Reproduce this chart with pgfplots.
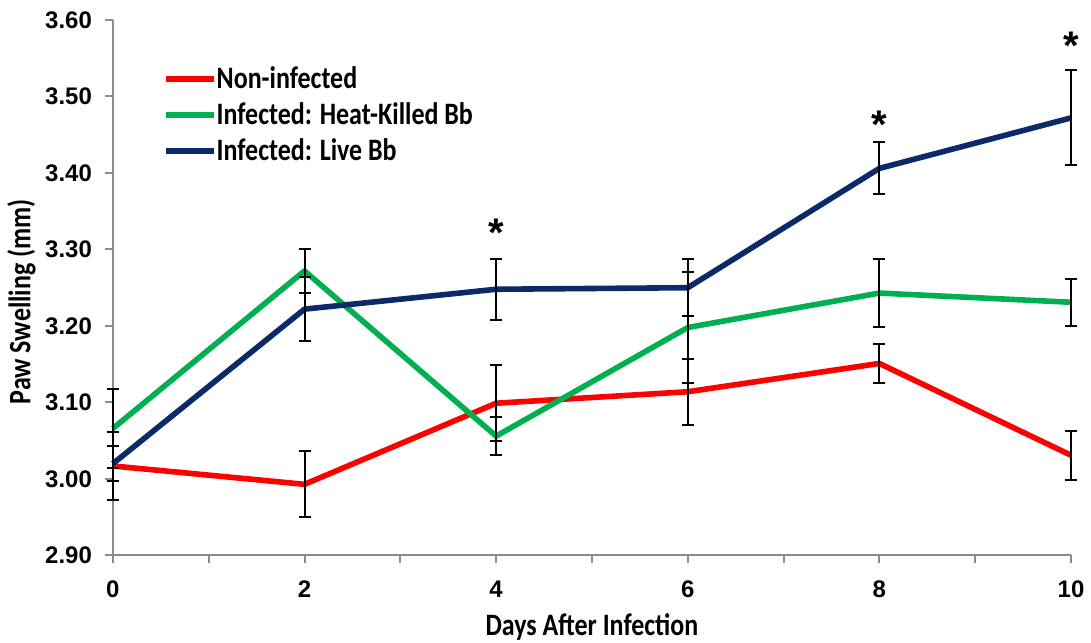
\documentclass[border=0pt]{standalone}
\usepackage{pgfplots}
\pgfplotsset{compat=1.18}
\usepackage{graphicx}
\usepackage{fontspec}
\setmainfont{Liberation Sans}
\newfontfamily\calibri{Carlito}
\definecolor{cred}{HTML}{FF0000}
\definecolor{cgreen}{HTML}{00B050}
\definecolor{cblue}{HTML}{0C2A6A}
\definecolor{axgray}{HTML}{8C8C8C}
\newcommand{\tall}[1]{\scalebox{1}[1.2]{#1}}
\begin{document}
\begin{tikzpicture}
\begin{axis}[
  scale only axis, width=479.5pt, height=268pt,
  xmin=0, xmax=10, ymin=2.9, ymax=3.6,
  axis lines*=left,
  axis line style={axgray, line width=1pt},
  xtick={0,2,4,6,8,10}, minor xtick={1,3,5,7,9},
  ytick={2.9,3.0,3.1,3.2,3.3,3.4,3.5,3.6},
  tick align=outside, major tick length=4pt, minor tick length=4pt,
  tick style={axgray, line width=1pt},
  /pgf/number format/assume math mode=true,
  yticklabel style={/pgf/number format/fixed, /pgf/number format/fixed zerofill, /pgf/number format/precision=2, xshift=-3pt},
  xticklabel style={yshift=-5pt},
  tick label style={font=\bfseries\fontsize{12}{14}\selectfont},
  xlabel={\tall{Days After Infection}}, ylabel={\tall{Paw Swelling (mm)}},
  label style={font=\calibri\bfseries\fontsize{13}{15}\selectfont},
  xlabel style={at={(axis description cs:0.5,0)}, anchor=north, inner sep=0pt, yshift=-29pt},
  ylabel style={at={(axis description cs:0,0.5)}, anchor=south, inner sep=0pt, yshift=38.5pt, xshift=-7pt},
  clip=false,
  legend style={draw=none, fill=none, at={(0.052,0.918)}, anchor=north west, inner sep=0pt, row sep=3pt, column sep=0pt,
    font=\calibri\bfseries\fontsize{13}{15}\selectfont, nodes={inner sep=0pt, text height=12pt, text depth=3pt}},
  legend cell align=left,
  legend image code/.code={\draw[#1, line width=2.8pt] (0pt,0pt) -- (24pt,0pt);},
]
\addplot[cred, line width=2.8pt, line join=round, mark=none,
  error bars/.cd, y dir=both, y explicit,
  error bar style={black, line width=1pt},
  error mark options={black, rotate=90, mark size=3pt, line width=1pt}]
  coordinates {(0,3.017) +- (0,0.045) (2,2.993) +- (0,0.043) (4,3.099) +- (0,0.050) (6,3.114) +- (0,0.043) (8,3.151) +- (0,0.025) (10,3.031) +- (0,0.032)};
\addlegendentry{\tall{Non-infected}}
\addplot[cgreen, line width=2.8pt, line join=round, mark=none,
  error bars/.cd, y dir=both, y explicit,
  error bar style={black, line width=1pt},
  error mark options={black, rotate=90, mark size=3pt, line width=1pt}]
  coordinates {(0,3.066) +- (0,0.052) (2,3.272) +- (0,0.029) (4,3.056) +- (0,0.025) (6,3.198) +- (0,0.072) (8,3.243) +- (0,0.045) (10,3.231) +- (0,0.031)};
\addlegendentry{\tall{Infected: Heat-Killed Bb}}
\addplot[cblue, line width=2.8pt, line join=round, mark=none,
  error bars/.cd, y dir=both, y explicit,
  error bar style={black, line width=1pt},
  error mark options={black, rotate=90, mark size=3pt, line width=1pt}]
  coordinates {(0,3.020) +- (0,0.023) (2,3.222) +- (0,0.042) (4,3.248) +- (0,0.040) (6,3.250) +- (0,0.037) (8,3.406) +- (0,0.034) (10,3.472) +- (0,0.062)};
\addlegendentry{\tall{Infected: Live Bb}}
\addplot[draw=none, mark=none, forget plot, nodes near coords={*},
  every node near coord/.append style={anchor=center, yshift=-3pt, inner sep=0pt, font=\bfseries\fontsize{20}{20}\selectfont}]
  coordinates {(4,3.330) (8,3.471) (10,3.574)};
\end{axis}
\path (current axis.south west) ++(-56.5pt,-43.5pt) coordinate (bbA);
\path (current axis.north east) ++(9.5pt,10pt) coordinate (bbB);
\path (bbA) rectangle (bbB);
\end{tikzpicture}
\end{document}
